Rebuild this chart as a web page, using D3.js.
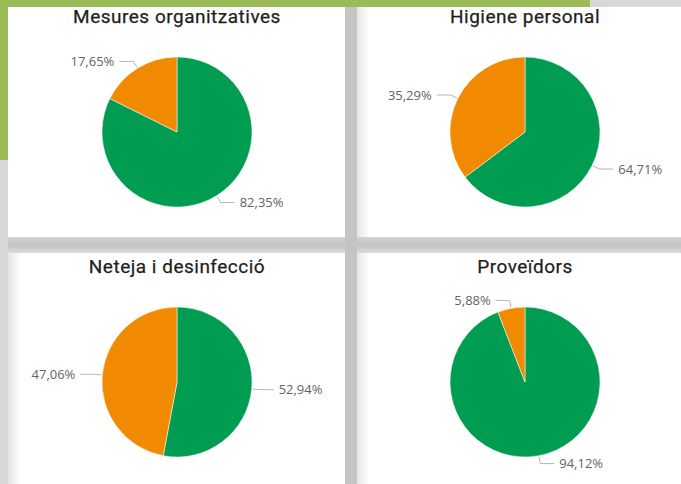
<!DOCTYPE html>
<html>
<head>
<meta charset="utf-8">
<script src="https://cdn.jsdelivr.net/npm/d3@7"></script>
<style>
  html, body { margin: 0; padding: 0; background: #d8d8d8; }
  svg { display: block; }
</style>
</head>
<body>
<div id="chart"></div>
<script>
// dades
const titles = ["Mesures organitzatives", "Higiene personal", "Neteja i desinfecció", "Proveïdors"];
const categories = ["Sí", "No"];
const yesValues = [82.35, 64.71, 52.94, 94.12];
const noValues = [17.65, 35.29, 47.06, 5.88];

const colors = d3.scaleOrdinal().domain(categories).range(["#009c52", "#f18a00"]);

const width = 681, height = 484;
const svg = d3.select("#chart").append("svg")
  .attr("width", width).attr("height", height);

const defs = svg.append("defs");
//degradat vora esquerra targeta
const grad = defs.append("linearGradient").attr("id", "leftShade")
  .attr("x1", 0).attr("x2", 1).attr("y1", 0).attr("y2", 0);
grad.append("stop").attr("offset", 0).attr("stop-color", "#e4e4e4");
grad.append("stop").attr("offset", 1).attr("stop-color", "#ffffff");
//ombra horitzontal
const gradH = defs.append("linearGradient").attr("id", "bandShade")
  .attr("x1", 0).attr("x2", 0).attr("y1", 0).attr("y2", 1);
gradH.append("stop").attr("offset", 0).attr("stop-color", "#d4d4d4");
gradH.append("stop").attr("offset", 0.5).attr("stop-color", "#c4c4c4");
gradH.append("stop").attr("offset", 1).attr("stop-color", "#dadada");

// fons
svg.append("rect").attr("width", width).attr("height", height).attr("fill", "#d8d8d8");
svg.append("rect").attr("x", 0).attr("y", 0).attr("width", 590).attr("height", 7).attr("fill", "#9bbb59");
svg.append("rect").attr("x", 0).attr("y", 0).attr("width", 8).attr("height", 160).attr("fill", "#9bbb59");

// ombres entre targetes
svg.append("rect").attr("x", 8).attr("y", 237).attr("width", width).attr("height", 16).attr("fill", "url(#bandShade)");
svg.append("rect").attr("x", 345).attr("y", 7).attr("width", 12).attr("height", height).attr("fill", "#c4c4c4");

// targetes: columna, fila
const cols = [{ x: 8, w: 337, cx: 177 }, { x: 357, w: 330, cx: 525 }];
const rows = [{ y: 7, h: 230, off: 0 }, { y: 253, h: 240, off: 250 }];

const radius = 75;
const pie = d3.pie().sort(null).value(d => d.value);
const arc = d3.arc().innerRadius(0).outerRadius(radius);

const caFormat = d3.formatLocale({ decimal: ",", thousands: ".", grouping: [3], currency: ["", "€"] }).format(".2f");

titles.forEach((title, i) => {
  const col = cols[i % 2], row = rows[Math.floor(i / 2)];

  svg.append("rect")
    .attr("x", col.x).attr("y", row.y)
    .attr("width", col.w).attr("height", row.h)
    .attr("fill", "#ffffff");
  if (i > 0) {
    svg.append("rect")
      .attr("x", col.x).attr("y", row.y)
      .attr("width", 12).attr("height", row.h)
      .attr("fill", "url(#leftShade)");
  }

  const g = svg.append("g");

  g.append("text")
    .attr("x", col.cx).attr("y", 23 + row.off)
    .attr("text-anchor", "middle")
    .style("font-family", "Roboto, 'DejaVu Sans', sans-serif")
    .style("font-size", "19px")
    .style("letter-spacing", "0.5px")
    .style("fill", "#1f1e1d")
    .style("stroke", "#1f1e1d")
    .style("stroke-width", 0.25)
    .text(title);

  const data = [
    { cat: categories[0], value: yesValues[i] },
    { cat: categories[1], value: noValues[i] }
  ];

  const pg = g.append("g").attr("transform", `translate(${col.cx},${132 + row.off})`);
  const arcs = pie(data);

  pg.selectAll("path")
    .data(arcs)
    .enter().append("path")
    .attr("d", arc)
    .attr("fill", d => colors(d.data.cat))
    .attr("stroke", "#ffffff")
    .attr("stroke-width", 0.5);

  //línies guia i etiquetes
  const lab = pg.selectAll("g.lab")
    .data(arcs)
    .enter().append("g").attr("class", "lab");

  const pos = (d, r) => {
    const a = (d.startAngle + d.endAngle) / 2;
    return [Math.sin(a) * r, -Math.cos(a) * r];
  };
  const side = d => Math.sin((d.startAngle + d.endAngle) / 2) >= 0 ? 1 : -1;

  lab.append("polyline")
    .attr("points", d => {
      const p0 = pos(d, radius + 1), p1 = pos(d, radius + 8);
      const p2 = [p1[0] + side(d) * 14, p1[1]];
      return [p0, p1, p2].map(p => p.join(",")).join(" ");
    })
    .attr("fill", "none")
    .attr("stroke", "#b8b6b4")
    .attr("stroke-width", 1);

  lab.append("text")
    .attr("x", d => pos(d, radius + 8)[0] + side(d) * 19)
    .attr("y", d => pos(d, radius + 8)[1])
    .attr("dy", "0.35em")
    .attr("text-anchor", d => side(d) > 0 ? "start" : "end")
    .style("font-family", "'Open Sans', sans-serif")
    .style("font-size", "13px")
    .style("fill", "#666462")
    .text(d => caFormat(d.data.value) + "%");
});
</script>
</body>
</html>
